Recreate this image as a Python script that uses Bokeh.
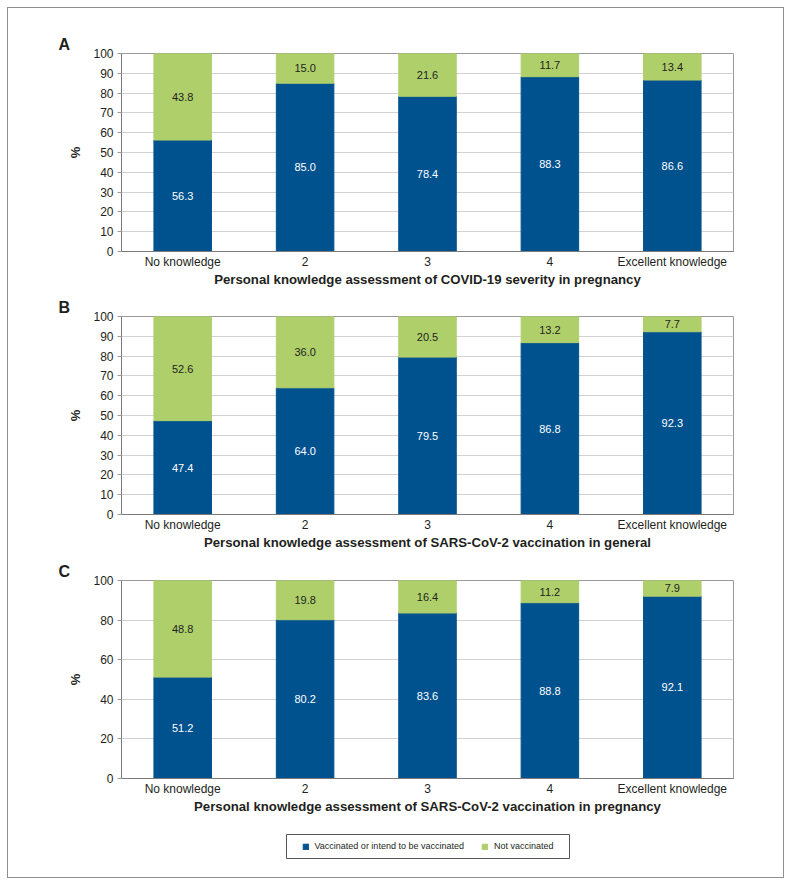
from bokeh.plotting import figure
from bokeh.models import (ColumnDataSource, FactorRange, Range1d, LabelSet,
                          FixedTicker, Legend, LegendItem)
from bokeh.core.properties import value
from bokeh.layouts import column, row
from bokeh.embed import file_html
from bokeh.resources import INLINE

categories = ["No knowledge", "2", "3", "4", "Excellent knowledge"]

a_vacc = [56.3, 85.0, 78.4, 88.3, 86.6]
a_not = [43.8, 15.0, 21.6, 11.7, 13.4]
b_vacc = [47.4, 64.0, 79.5, 86.8, 92.3]
b_not = [52.6, 36.0, 20.5, 13.2, 7.7]
c_vacc = [51.2, 80.2, 83.6, 88.8, 92.1]
c_not = [48.8, 19.8, 16.4, 11.2, 7.9]

ticks_ab = [0, 10, 20, 30, 40, 50, 60, 70, 80, 90, 100]
ticks_c = [0, 20, 40, 60, 80, 100]

title_a = "Personal knowledge assessment of COVID-19 severity in pregnancy"
title_b = "Personal knowledge assessment of SARS-CoV-2 vaccination in general"
title_c = "Personal knowledge assessment of SARS-CoV-2 vaccination in pregnancy"

series_names = ["Vaccinated or intend to be vaccinated", "Not vaccinated"]

FONT = "Liberation Sans"
BLUE = "#00528F"
GREEN = "#AFCF6B"
TXT = "#231F20"
W = 775


def panel(letter, vacc, notv, xtitle, ticks, height, top, bottom):
    src = ColumnDataSource(dict(
        cat=categories, vacc=vacc, notv=notv,
        vmid=[v / 2 for v in vacc],
        nmid=[v + n / 2 for v, n in zip(vacc, notv)],
        vlab=[f"{v:.1f}" for v in vacc],
        nlab=[f"{n:.1f}" for n in notv],
    ))
    p = figure(x_range=FactorRange(*categories), y_range=Range1d(0, 100),
               width=W, height=height, output_backend="svg", toolbar_location=None,
               min_border_left=113, min_border_right=50,
               min_border_top=top, min_border_bottom=bottom)
    p.vbar_stack(["vacc", "notv"], x="cat", width=0.47, color=[BLUE, GREEN], source=src)
    p.add_layout(LabelSet(x="cat", y="vmid", text="vlab", source=src, text_align="center",
                          text_baseline="middle", text_color="white",
                          text_font=value(FONT), text_font_size="11px"))
    p.add_layout(LabelSet(x="cat", y="nmid", text="nlab", source=src, text_align="center",
                          text_baseline="middle", text_color=TXT,
                          text_font=value(FONT), text_font_size="11px"))
    p.title.text = letter
    p.title.align = "left"
    p.title.offset = -63
    p.title.standoff = 2
    p.title.text_font = FONT
    p.title.text_font_style = "bold"
    p.title.text_font_size = "16px"
    p.title.text_color = TXT
    p.outline_line_color = "#9a9a9a"
    p.xgrid.visible = False
    p.ygrid.grid_line_color = "#d2d2d2"
    p.yaxis.ticker = FixedTicker(ticks=ticks)
    p.yaxis.minor_tick_line_color = None
    p.yaxis.major_tick_in = 0
    p.yaxis.major_tick_out = 4
    p.yaxis.major_tick_line_color = "#9a9a9a"
    p.yaxis.axis_line_color = "#7a7a7a"
    p.yaxis.major_label_text_font = FONT
    p.yaxis.major_label_text_font_size = "12px"
    p.yaxis.major_label_text_color = TXT
    p.yaxis.major_label_standoff = 4
    p.yaxis.axis_label = "%"
    p.yaxis.axis_label_text_font = FONT
    p.yaxis.axis_label_text_font_style = "bold"
    p.yaxis.axis_label_text_font_size = "13px"
    p.yaxis.axis_label_text_color = TXT
    p.yaxis.axis_label_standoff = 7
    p.xaxis.major_tick_in = 0
    p.xaxis.major_tick_out = 0
    p.xaxis.axis_line_color = "#7a7a7a"
    p.xaxis.major_label_text_font = FONT
    p.xaxis.major_label_text_font_size = "12px"
    p.xaxis.major_label_text_color = TXT
    p.xaxis.major_label_standoff = 3
    p.xaxis.axis_label = xtitle
    p.xaxis.axis_label_text_font = FONT
    p.xaxis.axis_label_text_font_style = "bold"
    p.xaxis.axis_label_text_font_size = "13.2px"
    p.xaxis.axis_label_text_color = TXT
    p.xaxis.axis_label_standoff = 0
    return p


pA = panel("A", a_vacc, a_not, title_a, ticks_ab, 284, 45, 41)
pB = panel("B", b_vacc, b_not, title_b, ticks_ab, 264, 24, 42)
pC = panel("C", c_vacc, c_not, title_c, ticks_c, 266, 24, 44)

# legend strip: the plot frame itself is the legend box
pL = figure(width=W, height=55, output_backend="svg", toolbar_location=None,
            x_range=Range1d(0, 1), y_range=Range1d(0, 1),
            x_axis_location=None, y_axis_location=None,
            min_border_left=278, min_border_right=214, min_border_top=12, min_border_bottom=19)
pL.grid.visible = False
pL.outline_line_color = "#555555"
pL.outline_line_width = 1
dummy = ColumnDataSource(dict(x=[-5], top=[-5]))
r1 = pL.vbar(x="x", top="top", width=0.01, color=BLUE, source=dummy)
r2 = pL.vbar(x="x", top="top", width=0.01, color=GREEN, source=dummy)
leg = Legend(items=[LegendItem(label=series_names[0], renderers=[r1]),
                    LegendItem(label=series_names[1], renderers=[r2])],
             location="center", orientation="horizontal",
             glyph_width=7, glyph_height=7, label_standoff=6, spacing=17,
             padding=0, margin=0, border_line_color=None, background_fill_alpha=0,
             label_text_font=FONT, label_text_font_size="9px", label_text_color=TXT,
             label_height=10)
pL.add_layout(leg, "center")

layout = column(column(pA, pB, pC, spacing=0), row(pL), spacing=0, margin=(7, 0, 0, 7),
                styles={"border": "1.5px solid #8f8f8f"})

open("out.html", "w").write(file_html(layout, INLINE))
